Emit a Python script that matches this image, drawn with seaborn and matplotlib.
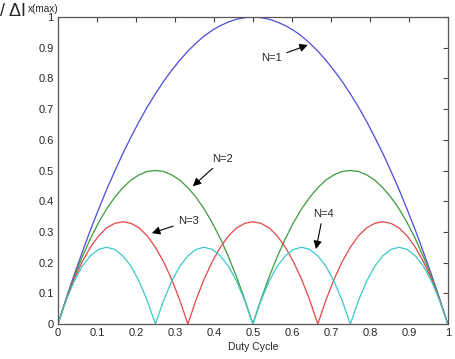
import numpy as np
import pandas as pd
import seaborn as sns
import matplotlib.pyplot as plt

# duty cycle sample points (steps of 1/48)
duty = np.linspace(0, 1, 49)

n1 = [0.000, 0.082, 0.160, 0.234, 0.306, 0.373, 0.438, 0.498, 0.556, 0.609,
      0.660, 0.707, 0.750, 0.790, 0.826, 0.859, 0.889, 0.915, 0.938, 0.957,
      0.972, 0.984, 0.993, 0.998, 1.000, 0.998, 0.993, 0.984, 0.972, 0.957,
      0.938, 0.915, 0.889, 0.859, 0.826, 0.790, 0.750, 0.707, 0.660, 0.609,
      0.556, 0.498, 0.438, 0.373, 0.306, 0.234, 0.160, 0.082, 0.000]

n2 = [0.000, 0.080, 0.153, 0.219, 0.278, 0.330, 0.375, 0.413, 0.444, 0.469,
      0.486, 0.497, 0.500, 0.497, 0.486, 0.469, 0.444, 0.413, 0.375, 0.330,
      0.278, 0.219, 0.153, 0.080, 0.000, 0.080, 0.153, 0.219, 0.278, 0.330,
      0.375, 0.413, 0.444, 0.469, 0.486, 0.497, 0.500, 0.497, 0.486, 0.469,
      0.444, 0.413, 0.375, 0.330, 0.278, 0.219, 0.153, 0.080, 0.000]

n3 = [0.000, 0.078, 0.146, 0.203, 0.250, 0.287, 0.313, 0.328, 0.333, 0.328,
      0.313, 0.287, 0.250, 0.203, 0.146, 0.078, 0.000, 0.078, 0.146, 0.203,
      0.250, 0.287, 0.313, 0.328, 0.333, 0.328, 0.313, 0.287, 0.250, 0.203,
      0.146, 0.078, 0.000, 0.078, 0.146, 0.203, 0.250, 0.287, 0.313, 0.328,
      0.333, 0.328, 0.313, 0.287, 0.250, 0.203, 0.146, 0.078, 0.000]

n4 = [0.000, 0.076, 0.139, 0.188, 0.222, 0.243, 0.250, 0.243, 0.222, 0.188,
      0.139, 0.076, 0.000, 0.076, 0.139, 0.188, 0.222, 0.243, 0.250, 0.243,
      0.222, 0.188, 0.139, 0.076, 0.000, 0.076, 0.139, 0.188, 0.222, 0.243,
      0.250, 0.243, 0.222, 0.188, 0.139, 0.076, 0.000, 0.076, 0.139, 0.188,
      0.222, 0.243, 0.250, 0.243, 0.222, 0.188, 0.139, 0.076, 0.000]

series = {"N=1": n1, "N=2": n2, "N=3": n3, "N=4": n4}
colors = {"N=1": "#4b4bdc", "N=2": "#3c9b3c", "N=3": "#e64646", "N=4": "#3cc8c8"}

df = pd.concat([pd.DataFrame({"duty": duty, "ripple": v, "N": k})
                for k, v in series.items()])

sns.set_style("white")
plt.rcParams['font.family'] = ['Liberation Sans', 'DejaVu Sans']

fig = plt.figure(figsize=(4.56, 3.59), dpi=100)
ax = fig.add_axes([0.127, 0.0975, 0.855, 0.855])

sns.lineplot(data=df, x="duty", y="ripple", hue="N", palette=colors,
             linewidth=0.9, legend=False, ax=ax, estimator=None, sort=False)

ax.set_xlim(0, 1)
ax.set_ylim(0, 1)
ax.set_xticks(np.arange(0, 1.01, 0.1))
ax.set_yticks(np.arange(0, 1.01, 0.1))
ax.set_xticklabels(["0", "0.1", "0.2", "0.3", "0.4", "0.5", "0.6", "0.7", "0.8", "0.9", "1"])
ax.set_yticklabels(["0", "0.1", "0.2", "0.3", "0.4", "0.5", "0.6", "0.7", "0.8", "0.9", "1"])
ax.tick_params(direction="in", length=3.5, width=0.8, color="#444444",
               labelsize=8, top=True, right=True, pad=3)
for s in ax.spines.values():
    s.set_color("#555555")
    s.set_linewidth(0.9)

ax.set_xlabel("Duty Cycle", fontsize=7.5, labelpad=3)
ax.set_ylabel("")
# y label sits in the top-left corner, its start past the figure edge as in the original
fig.text(26 / 456, 1 - 16 / 359, "ΔI / ΔI", ha="right", va="baseline", fontsize=13)
fig.text(28 / 456, 1 - 12.5 / 359, "x(max)", ha="left", va="baseline", fontsize=7.2)

arrow = dict(arrowstyle="-|>", color="black", lw=0.8, mutation_scale=12,
             shrinkA=1, shrinkB=0)
ax.annotate("N=1", xy=(0.641, 0.909), xytext=(0.549, 0.866), fontsize=8,
            ha="center", va="center", arrowprops=arrow)
ax.annotate("N=2", xy=(0.346, 0.449), xytext=(0.423, 0.537), fontsize=8,
            ha="center", va="center", arrowprops=arrow)
ax.annotate("N=3", xy=(0.241, 0.296), xytext=(0.334, 0.335), fontsize=8,
            ha="center", va="center", arrowprops=arrow)
ax.annotate("N=4", xy=(0.662, 0.244), xytext=(0.680, 0.358), fontsize=8,
            ha="center", va="center", arrowprops=arrow)

fig.savefig("out.png", dpi=100)
